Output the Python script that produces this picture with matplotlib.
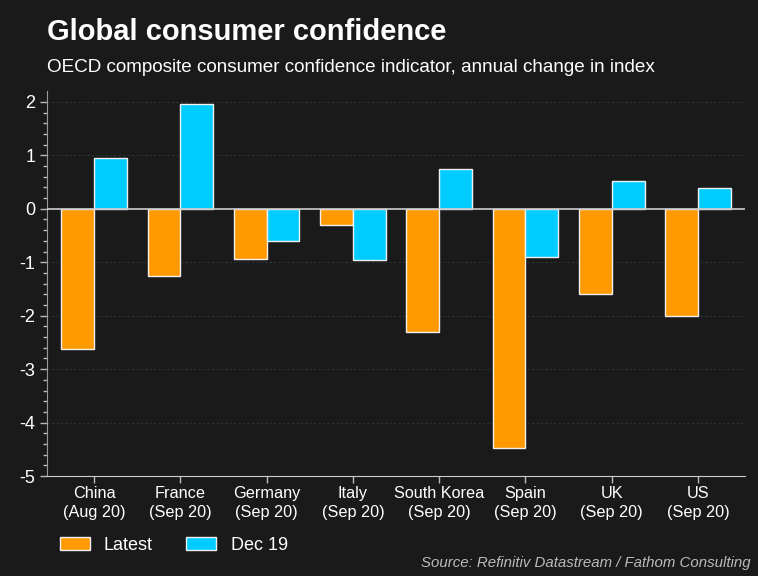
import matplotlib
matplotlib.use('Agg')
import matplotlib.pyplot as plt
import numpy as np

plt.rcParams['font.family'] = ['Liberation Sans', 'DejaVu Sans']

# Data
countries = ['China\n(Aug 20)', 'France\n(Sep 20)', 'Germany\n(Sep 20)', 'Italy\n(Sep 20)',
             'South Korea\n(Sep 20)', 'Spain\n(Sep 20)', 'UK\n(Sep 20)', 'US\n(Sep 20)']
latest = [-2.63, -1.25, -0.93, -0.30, -2.30, -4.48, -1.59, -2.00]
dec19 = [0.95, 1.96, -0.60, -0.95, 0.75, -0.91, 0.52, 0.39]

bg = '#1a1a1a'
orange = '#ff9900'
blue = '#00ccff'

fig = plt.figure(figsize=(7.58, 5.76), dpi=100, facecolor=bg)
ax = fig.add_axes([0.062, 0.1736, 0.921, 0.668])
ax.set_facecolor(bg)

x = np.arange(len(countries))
w = 0.38
b1 = ax.bar(x - w / 2, latest, w, color=orange, edgecolor='#f0f0f0', linewidth=1, label='Latest', zorder=3)
b2 = ax.bar(x + w / 2, dec19, w, color=blue, edgecolor='#f0f0f0', linewidth=1, label='Dec 19', zorder=3)

ax.axhline(0, color='#cccccc', linewidth=1.2, zorder=4)
ax.set_xlim(-0.545, len(countries) - 0.455)
ax.set_ylim(-5, 2.2)
ax.set_yticks(range(-5, 3))
ax.set_yticklabels([str(v) for v in range(-5, 3)])
ax.set_yticks(np.arange(-5, 2.2, 0.2), minor=True)
ax.grid(axis='y', which='major', color='#2a3535', linestyle=(0, (2, 2)), linewidth=0.8, zorder=0)

ax.set_xticks(x)
ax.set_xticklabels(countries, fontsize=11.7, color='white', linespacing=1.3)
ax.tick_params(axis='y', which='major', colors='#bbbbbb', labelcolor='white', labelsize=13, length=5, width=1)
ax.tick_params(axis='y', which='minor', colors='#bbbbbb', length=3, width=1)
ax.tick_params(axis='x', colors='#bbbbbb', labelcolor='white', length=5, width=1, pad=2.5)

for s in ['top', 'right']:
    ax.spines[s].set_visible(False)
ax.spines['left'].set_color('#999999')
ax.spines['bottom'].set_color('#cccccc')

fig.text(0.062, 0.945, 'Global consumer confidence', fontsize=21, fontweight='bold', color='white', va='center')
fig.text(0.062, 0.883, 'OECD composite consumer confidence indicator, annual change in index',
         fontsize=13.6, color='white', va='center')
fig.text(0.99, 0.01, 'Source: Refinitiv Datastream / Fathom Consulting', fontsize=10.8,
         style='italic', color='#bbbbbb', ha='right', va='bottom')

leg = fig.legend(handles=[b1, b2], labels=['Latest', 'Dec 19'], loc='center left',
                 bbox_to_anchor=(0.0787, 0.053), ncol=2, frameon=False, fontsize=13,
                 labelcolor='white', handlelength=1.67, handleheight=0.75, columnspacing=1.85,
                 handletextpad=0.78, borderaxespad=0, borderpad=0)

fig.savefig('out.png', dpi=100, facecolor=bg)
